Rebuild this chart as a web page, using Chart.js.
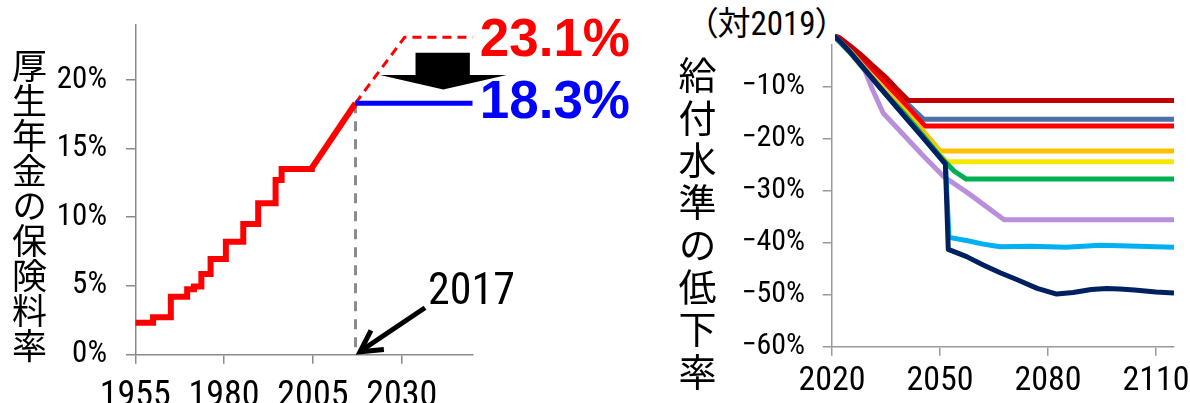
<!DOCTYPE html>
<html>
<head>
<meta charset="utf-8">
<script src="https://cdn.jsdelivr.net/npm/chart.js@4.4.1/dist/chart.umd.min.js"></script>
<style>
  body { margin: 0; width: 1190px; height: 403px; overflow: hidden; background: #fff; position: relative; font-family: 'Noto Sans CJK JP', sans-serif; }
  canvas { position: absolute; top: 0; }
  #c1 { left: 0; }
  #c2 { left: 660px; }
  .vt { position: absolute; writing-mode: vertical-rl; text-orientation: upright; color: #000; white-space: nowrap; }
  #t1 { left: 12px; top: 48px; font-size: 35px; line-height: 35px; }
  #t2 { left: 678px; top: 56px; font-size: 38px; line-height: 38px; letter-spacing: 4.3px; }
  #base { position: absolute; left: 701px; top: 4px; font-family: 'Roboto Condensed', 'Noto Sans CJK JP', sans-serif; font-size: 33px; line-height: 40px; background: #fff; padding-right: 3px; font-feature-settings: "palt"; }
</style>
</head>
<body>
<canvas id="c1" width="660" height="403"></canvas>
<canvas id="c2" width="530" height="403"></canvas>
<div class="vt" id="t1">厚生年金の保険料率</div>
<div class="vt" id="t2">給付水準の低下率</div>
<div id="base">（対2019）</div>
<script>
// ── left: 厚生年金の保険料率 (%) ──
const rateYears  = [1955, 1960, 1965, 1969.6, 1971.5, 1973.6, 1976.2, 1980.5, 1985.4, 1989.6, 1994.5, 1996.2, 2004.7];
const rateValues = [2.3, 2.7, 4.2, 4.75, 4.95, 5.85, 6.95, 8.2, 9.5, 11.0, 12.7, 13.5, 13.58];
const rampYears  = [2004.7, 2017];
const rampValues = [13.58, 18.3];
const planYears  = [2017, 2030.8, 2050];
const planValues = [18.3, 23.1, 23.1];
const capYears   = [2017, 2050];
const capValues  = [18.3, 18.3];
const markYears  = [2017, 2017];
const markValues = [18.3, 0];
const leftXTicks = [1955, 1980, 2005, 2030];
const leftYTicks = [0, 5, 10, 15, 20];

// ── right: 給付水準の低下率 (対2019, %) ──
const navyYears   = [2020, 2022, 2025, 2030, 2035, 2040, 2045, 2051.5, 2052.3, 2057.4, 2062, 2066.7, 2071.3, 2077, 2082.4, 2087, 2092, 2096.3, 2100, 2104, 2110, 2115];
const navyValues  = [0, -1.2, -3.4, -7.5, -11.6, -15.6, -19.6, -24.9, -41.3, -42.7, -44.3, -45.8, -47.1, -48.8, -49.9, -49.6, -49.0, -48.8, -48.9, -49.1, -49.5, -49.7];
const skyYears    = [2020, 2022, 2025, 2030, 2035, 2040, 2045, 2051.5, 2052.5, 2058, 2062, 2066.7, 2075, 2085, 2094.5, 2105, 2115];
const skyValues   = [0, -1.2, -3.4, -7.5, -11.6, -15.6, -19.6, -24.9, -39.0, -39.7, -40.3, -40.8, -40.7, -40.9, -40.5, -40.7, -40.9];
const lilacYears  = [2020, 2025, 2029, 2031, 2034.2, 2040, 2045, 2051, 2058, 2067.8, 2115];
const lilacValues = [0, -3.4, -6.7, -10.2, -15.1, -19.4, -23.1, -27.3, -30.6, -35.6, -35.6];
const greenYears  = [2020, 2025, 2030, 2035, 2040, 2045, 2051, 2054, 2057.3, 2115];
const greenValues = [0, -3.5, -7.6, -11.5, -15.2, -19.2, -24.2, -26.3, -27.8, -27.8];
const yellowYears  = [2020, 2025, 2030, 2035, 2040, 2045, 2051.9, 2115];
const yellowValues = [0, -3.5, -7.6, -11.5, -15.2, -19.2, -24.5, -24.5];
const orangeYears  = [2020, 2025, 2030, 2035, 2040, 2045, 2050, 2115];
const orangeValues = [0, -3.2, -7.2, -10.9, -14.5, -18.3, -22.4, -22.4];
const redYears   = [2020, 2023, 2026, 2030, 2035, 2041, 2045.8, 2115];
const redValues  = [0, -1.4, -3.4, -5.8, -9.5, -14.0, -17.6, -17.6];
const blueYears  = [2020, 2023, 2026, 2030, 2035, 2041, 2045.4, 2115];
const blueValues = [0, -1.3, -3.2, -5.6, -9.2, -13.4, -16.3, -16.3];
const maroonYears  = [2020, 2022, 2025, 2028, 2031, 2035, 2038, 2041.2, 2115];
const maroonValues = [0, -0.6, -2.2, -3.9, -5.8, -8.3, -10.5, -12.7, -12.7];
const rightXTicks = [2020, 2050, 2080, 2110];
const rightYTicks = [0, -10, -20, -30, -40, -50, -60];

const toPoints = (xs, ys) => xs.map((x, i) => ({ x: x, y: ys[i] }));
const NARROW = "'Roboto Condensed', 'DejaVu Sans Condensed', sans-serif";
const setTicks = list => s => { s.ticks = list.map(v => ({ value: v })); };

function line(xs, ys, color, width, extra) {
  return Object.assign({
    data: toPoints(xs, ys), borderColor: color, borderWidth: width,
    pointRadius: 0, fill: false, tension: 0, borderJoinStyle: 'round'
  }, extra || {});
}

// annotations on the left chart
const leftNotes = {
  id: 'leftNotes',
  afterDatasetsDraw(chart) {
    const { ctx, scales: { x, y } } = chart;
    ctx.save();

    // big block arrow 23.1% → 18.3%
    const sx0 = x.getPixelForValue(2033.9), sx1 = x.getPixelForValue(2049.2);
    const hx0 = x.getPixelForValue(2023.9), hx1 = x.getPixelForValue(2059.6);
    const tx = x.getPixelForValue(2041.7);
    const top = y.getPixelForValue(21.98), neck = y.getPixelForValue(20.35), tip = y.getPixelForValue(19.3);
    ctx.fillStyle = '#000';
    ctx.beginPath();
    ctx.moveTo(sx0, top); ctx.lineTo(sx1, top); ctx.lineTo(sx1, neck);
    ctx.lineTo(hx1, neck); ctx.lineTo(tx, tip); ctx.lineTo(hx0, neck);
    ctx.lineTo(sx0, neck); ctx.closePath(); ctx.fill();

    // end labels
    const endX = x.getPixelForValue(x.max) + 7;
    ctx.font = "bold 53px 'Liberation Sans', Arial, sans-serif";
    ctx.textAlign = 'left'; ctx.textBaseline = 'alphabetic';
    const planEnd = planValues[planValues.length - 1];
    const capEnd = capValues[capValues.length - 1];
    ctx.fillStyle = '#FF0000';
    ctx.fillText(planEnd.toFixed(1) + '%', endX, y.getPixelForValue(planEnd) + 18.5);
    ctx.fillStyle = '#0000FF';
    ctx.fillText(capEnd.toFixed(1) + '%', endX, y.getPixelForValue(capEnd) + 15);

    // 2017 pointer
    const px = x.getPixelForValue(markYears[0]) + 4.5, py = y.getPixelForValue(0) - 2.5;
    const qx = px + 65, qy = py - 44;
    ctx.strokeStyle = '#000'; ctx.lineWidth = 5; ctx.lineCap = 'butt'; ctx.lineJoin = 'miter';
    ctx.beginPath(); ctx.moveTo(qx, qy); ctx.lineTo(px + 4, py - 3); ctx.stroke();
    const ang = Math.atan2(qy - py, qx - px);
    ctx.beginPath();
    ctx.moveTo(px + 24 * Math.cos(ang - 0.5), py + 24 * Math.sin(ang - 0.5));
    ctx.lineTo(px, py);
    ctx.lineTo(px + 24 * Math.cos(ang + 0.5), py + 24 * Math.sin(ang + 0.5));
    ctx.stroke();
    ctx.font = '44px ' + NARROW;
    ctx.fillStyle = '#000';
    ctx.fillText(String(markYears[0]), qx + 3, qy - 4);
    ctx.restore();
  }
};

const axisBase = (color, tickLen) => ({
  grid: { drawOnChartArea: false, drawTicks: true, tickLength: tickLen, color: color, lineWidth: 1.5 },
  border: { display: true, color: color, width: 1.5 }
});

new Chart(document.getElementById('c1'), {
  type: 'line',
  data: {
    datasets: [
      line(capYears, capValues, '#0000FF', 5),
      line(planYears, planValues, '#FF0000', 3, { borderDash: [9, 6] }),
      line(rampYears, rampValues, '#FF0000', 6),
      line(rateYears, rateValues, '#FF0000', 6, { stepped: true, borderJoinStyle: 'miter' }),
      line(markYears, markValues, '#8c8c8c', 3, { borderDash: [10, 8] })
    ]
  },
  options: {
    responsive: false, animation: false, devicePixelRatio: 1,
    layout: { padding: { left: 0, top: 25, right: 187.3, bottom: 0 } },
    plugins: { legend: { display: false }, tooltip: { enabled: false } },
    scales: {
      x: Object.assign(axisBase('#8a8a8a', 9.5), {
        type: 'linear', min: 1955, max: 2050,
        afterBuildTicks: setTicks(leftXTicks),
        afterFit: s => { s.height = 403 - 354.3; s.paddingLeft = 0; s.paddingRight = 0; },
        ticks: { autoSkip: false, maxRotation: 0, padding: 12, color: '#000', font: { family: NARROW, size: 36, lineHeight: 1.2 }, callback: v => String(v) }
      }),
      y: Object.assign(axisBase('#8a8a8a', 9.3), {
        type: 'linear', min: 0, max: 24,
        afterBuildTicks: setTicks(leftYTicks),
        afterFit: s => { s.width = 135.3; s.paddingTop = 0; s.paddingBottom = 0; },
        ticks: { padding: 19, color: '#000', font: { family: NARROW, size: 31, lineHeight: 1.2 }, callback: v => v + '%' }
      })
    }
  },
  plugins: [leftNotes]
});

new Chart(document.getElementById('c2'), {
  type: 'line',
  data: {
    datasets: [
      line(navyYears, navyValues, '#002060', 5),
      line(skyYears, skyValues, '#00B0F0', 5),
      line(lilacYears, lilacValues, '#B98FDC', 5),
      line(greenYears, greenValues, '#00B050', 5),
      line(yellowYears, yellowValues, '#F7E600', 5),
      line(orangeYears, orangeValues, '#FFC000', 5),
      line(maroonYears, maroonValues, '#C00000', 5),
      line(redYears, redValues, '#FF0000', 5),
      line(blueYears, blueValues, '#4A71AA', 5)
    ]
  },
  options: {
    responsive: false, animation: false, devicePixelRatio: 1,
    layout: { padding: { left: 0, top: 34.3, right: 16, bottom: 0 } },
    plugins: { legend: { display: false }, tooltip: { enabled: false } },
    scales: {
      x: Object.assign(axisBase('#999999', 9), {
        type: 'linear', min: 2020, max: 2115,
        afterBuildTicks: setTicks(rightXTicks),
        afterFit: s => { s.height = 403 - 346.7; s.paddingLeft = 0; s.paddingRight = 0; },
        ticks: { autoSkip: false, maxRotation: 0, padding: 5, color: '#000', font: { family: NARROW, size: 34, lineHeight: 1.2 }, callback: v => String(v) }
      }),
      y: Object.assign(axisBase('#999999', 9.3), {
        type: 'linear', min: -60, max: 0,
        afterBuildTicks: setTicks(rightYTicks),
        afterFit: s => { s.width = 172; s.paddingTop = 0; s.paddingBottom = 0; },
        ticks: { padding: 17.7, color: '#000', font: { family: NARROW, size: 30, lineHeight: 1.2 }, callback: v => (v < 0 ? '\u2212' : '') + Math.abs(v) + '%' }
      })
    }
  }
});
</script>
</body>
</html>
